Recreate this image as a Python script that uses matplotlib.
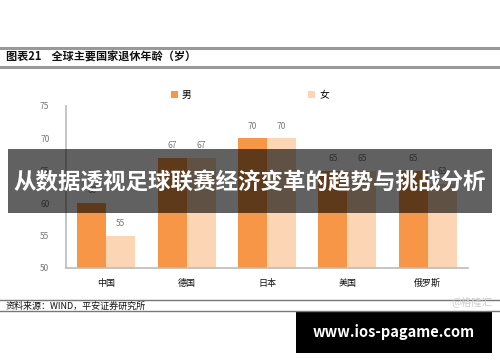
import matplotlib.pyplot as plt
from matplotlib.patches import Rectangle
import numpy as np

plt.rcParams['font.family'] = ['Noto Sans CJK SC', 'DejaVu Sans']

# data
countries = ["中国", "德国", "日本", "美国", "俄罗斯"]
male = [60, 67, 70, 65, 65]
female = [55, 67, 70, 65, 63]
y_ticks = [50, 55, 60, 65, 70, 75]

male_color = "#F79646"
female_color = "#FCD5B5"

fig = plt.figure(figsize=(5, 3.62), dpi=100)
ax = fig.add_axes([0.132, 0.2597, 0.804, 0.4475])

x = np.arange(len(countries))
w = 0.36
ax.bar(x - w / 2, male, width=w, bottom=0, color=male_color, label="男")
ax.bar(x + w / 2, female, width=w, bottom=0, color=female_color, label="女")

for xi, v in zip(x, male):
    ax.text(xi - w / 2, v + 1.2, str(v), ha="center", va="bottom", fontsize=6, color="#777777")
for xi, v in zip(x, female):
    ax.text(xi + w / 2, v + 1.2, str(v), ha="center", va="bottom", fontsize=6, color="#777777")

ax.set_ylim(50, 75)
ax.set_xlim(-0.5, 4.5)
ax.set_yticks(y_ticks)
ax.set_yticklabels([str(t) for t in y_ticks], fontsize=6, color="#777777")
ax.set_xticks(x)
ax.set_xticklabels(countries, fontsize=6.5, color="#111111")
ax.tick_params(length=0, pad=8)
ax.tick_params(axis="y", pad=12)
for s in ["top", "right"]:
    ax.spines[s].set_visible(False)
for s in ["left", "bottom"]:
    ax.spines[s].set_color("#bbbbbb")
    ax.spines[s].set_linewidth(1.2)

leg = fig.legend(loc="upper center", bbox_to_anchor=(0.5, 0.775), ncol=2, frameon=False,
                 fontsize=7, handlelength=0.7, handleheight=0.7, handletextpad=0.4,
                 columnspacing=12)

# header
fig.add_artist(plt.Line2D([0, 1], [1 - 48 / 362] * 2, color="#999999", lw=2.2))
fig.add_artist(plt.Line2D([0, 1], [1 - 67 / 362] * 2, color="#999999", lw=2.2))
fig.text(0.012, 1 - 57.5 / 362, "图表21    全球主要国家退休年龄（岁）", fontsize=8,
         fontweight="bold", va="center", color="#111111")

# footer
fig.add_artist(plt.Line2D([0, 1], [1 - 300 / 362] * 2, color="#777777", lw=1.0))
fig.add_artist(plt.Line2D([0, 1], [1 - 311 / 362] * 2, color="#777777", lw=1.0))
fig.text(0.012, 1 - 306 / 362, "资料来源：WIND，平安证券研究所", fontsize=6.5,
         style="italic", va="center", color="#111111")
fig.text(0.985, 1 - 302 / 362, "@格隆汇", fontsize=7.5, va="center", ha="right", color="#cccccc")

# banner overlay
fig.add_artist(Rectangle((8 / 500, 1 - 213 / 362), 484 / 500, 64 / 362,
                         transform=fig.transFigure, facecolor="black", alpha=0.62,
                         edgecolor="none"))
fig.text(0.5, 1 - 183 / 362, "从数据透视足球联赛经济变革的趋势与挑战分析", fontsize=16.2,
         fontweight="bold", color="white", ha="center", va="center")

# url box
fig.add_artist(Rectangle((296 / 500, 1 - 353 / 362), 196 / 500, 41 / 362,
                         transform=fig.transFigure, facecolor="black", edgecolor="none"))
fig.text(394 / 500, 1 - 332 / 362, "www.ios-pagame.com", fontsize=10.5, fontweight="bold",
         color="white", ha="center", va="center")

fig.savefig("out.png", dpi=100)
